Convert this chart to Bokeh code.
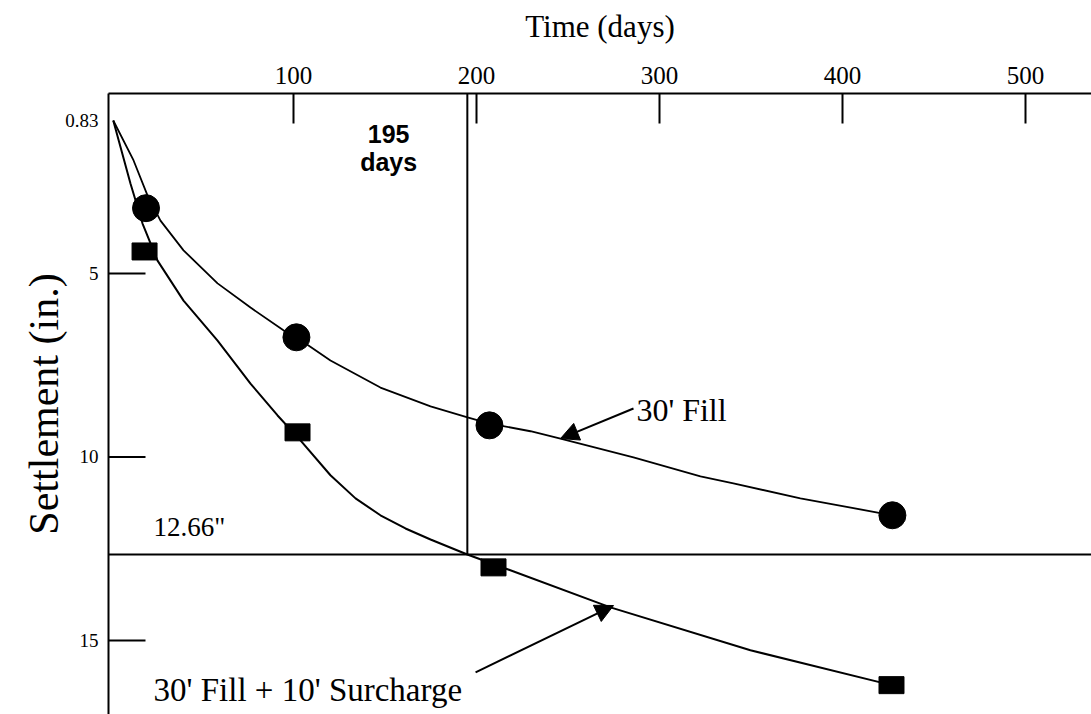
from bokeh.plotting import figure
from bokeh.models import Range1d, FixedTicker, Label, Arrow, NormalHead, Span
from bokeh.embed import file_html
from bokeh.resources import INLINE

# ---- data ----
fill_days = [19.4, 101.6, 207.1, 427.3]
fill_settle = [3.22, 6.74, 9.14, 11.59]

surch_days = [18.6, 102.2, 209.3, 426.8]
surch_settle = [4.40, 9.33, 13.01, 16.22]

# curves
fill_curve_days = [1.5, 12.6, 20.2, 27.3, 39.9, 58.5, 76.5, 94.5, 101.6, 120.2, 147.5,
                   174.9, 195.1, 207.1, 229.5, 245.9, 285.8, 322.4, 340.4, 377.0, 427.3]
fill_curve_settle = [0.83, 1.92, 2.87, 3.56, 4.37, 5.27, 5.93, 6.55, 6.74, 7.37, 8.11,
                     8.62, 8.92, 9.09, 9.30, 9.50, 10.01, 10.53, 10.72, 11.13, 11.59]

surch_curve_days = [1.5, 10.9, 17.5, 25.7, 39.9, 58.5, 76.5, 91.3, 103.8, 120.2, 133.9,
                    147.5, 161.2, 174.9, 195.0, 215.8, 273.2, 349.7, 426.8]
surch_curve_settle = [0.83, 2.55, 3.64, 4.65, 5.74, 6.83, 8.00, 8.87, 9.55, 10.50, 11.13,
                      11.59, 11.95, 12.25, 12.66, 13.04, 14.10, 15.27, 16.22]

x_ticks = [100, 200, 300, 400, 500]
y_label_ticks = [0.83, 5, 10, 15]
y_label_text = ["0.83", "5", "10", "15"]
y_mark_ticks = [5, 10, 15]
target_settlement = 12.66
target_day = 195

SERIF = "Liberation Serif"
X0, X1 = -1.1, 536.1
Y0, Y1 = 17.02, 0.095
FRAME_W = 1091 - 108

p = figure(width=1091, height=714, output_backend="svg", toolbar_location=None,
           x_axis_location="above",
           x_range=Range1d(X0, X1), y_range=Range1d(Y0, Y1),
           min_border_left=108, min_border_right=0, min_border_top=93, min_border_bottom=0)
p.outline_line_color = None
p.xgrid.visible = False
p.ygrid.visible = False
p.background_fill_color = "white"
p.border_fill_color = "white"

xa = p.xaxis[0]
xa.ticker = FixedTicker(ticks=x_ticks)
xa.major_tick_in = 30
xa.major_tick_out = 0
xa.minor_tick_line_color = None
xa.axis_line_width = 2
xa.axis_line_color = "black"
xa.major_tick_line_width = 2
xa.major_tick_line_color = "black"
xa.major_label_text_font = SERIF
xa.major_label_text_font_size = "25px"
xa.major_label_text_color = "black"
xa.major_label_standoff = 10
xa.axis_label = "Time (days)"
xa.axis_label_text_font = SERIF
xa.axis_label_text_font_style = "normal"
xa.axis_label_text_font_size = "31px"
xa.axis_label_text_color = "black"
xa.axis_label_standoff = 20

ya = p.yaxis[0]
ya.ticker = FixedTicker(ticks=y_label_ticks)
ya.major_label_overrides = {t: s for t, s in zip(y_label_ticks, y_label_text)}
ya.major_tick_in = 0
ya.major_tick_out = 0
ya.major_tick_line_color = None
ya.minor_tick_line_color = None
ya.axis_line_width = 2
ya.axis_line_color = "black"
ya.major_label_text_font = SERIF
ya.major_label_text_font_size = "19px"
ya.major_label_text_color = "black"
ya.major_label_standoff = 10
ya.axis_label = "Settlement (in.)"
ya.axis_label_text_font = SERIF
ya.axis_label_text_font_style = "normal"
ya.axis_label_text_font_size = "42px"
ya.axis_label_text_color = "black"
ya.axis_label_standoff = -5

# inward tick marks on the settlement axis (no mark at the 0.83 start value)
tick_len_days = 37 * (X1 - X0) / FRAME_W
p.segment(x0=[X0] * len(y_mark_ticks), y0=y_mark_ticks,
          x1=[X0 + tick_len_days] * len(y_mark_ticks), y1=y_mark_ticks,
          line_color="black", line_width=2)

# reference lines
p.add_layout(Span(location=target_settlement, dimension="width", line_color="black", line_width=2))
p.segment(x0=[target_day], y0=[Y1], x1=[target_day], y1=[target_settlement],
          line_color="black", line_width=2)

# curves
p.line(fill_curve_days, fill_curve_settle, line_color="black", line_width=1.8)
p.line(surch_curve_days, surch_curve_settle, line_color="black", line_width=2)

# markers
p.scatter(fill_days, fill_settle, marker="circle", size=27, color="black")
p.rect(x=surch_days, y=surch_settle, width=25, height=17,
       width_units="screen", height_units="screen", color="black")

# annotations
p.add_layout(Label(x=152, y=1.19, text="195", text_font="Liberation Sans",
                   text_font_style="bold", text_font_size="25px", text_color="black",
                   text_align="center", text_baseline="middle"))
p.add_layout(Label(x=152, y=1.97, text="days", text_font="Liberation Sans",
                   text_font_style="bold", text_font_size="25px", text_color="black",
                   text_align="center", text_baseline="middle"))
p.add_layout(Label(x=23.5, y=11.92, text='12.66"', text_font=SERIF, text_color="black",
                   text_font_size="27px", text_align="left", text_baseline="middle"))
p.add_layout(Label(x=287.4, y=8.71, text="30' Fill", text_font=SERIF, text_color="black",
                   text_font_size="32px", text_align="left", text_baseline="middle"))
p.add_layout(Label(x=23.5, y=16.36, text="30' Fill + 10' Surcharge", text_font=SERIF,
                   text_color="black", text_font_size="33px",
                   text_align="left", text_baseline="middle"))

p.add_layout(Arrow(x_start=285.8, y_start=8.68, x_end=245.9, y_end=9.50,
                   line_color="black", line_width=2,
                   end=NormalHead(size=18, fill_color="black", line_color="black")))
p.add_layout(Arrow(x_start=199.5, y_start=15.87, x_end=274.9, y_end=14.05,
                   line_color="black", line_width=2,
                   end=NormalHead(size=18, fill_color="black", line_color="black")))

open("out.html", "w").write(file_html(p, INLINE))
